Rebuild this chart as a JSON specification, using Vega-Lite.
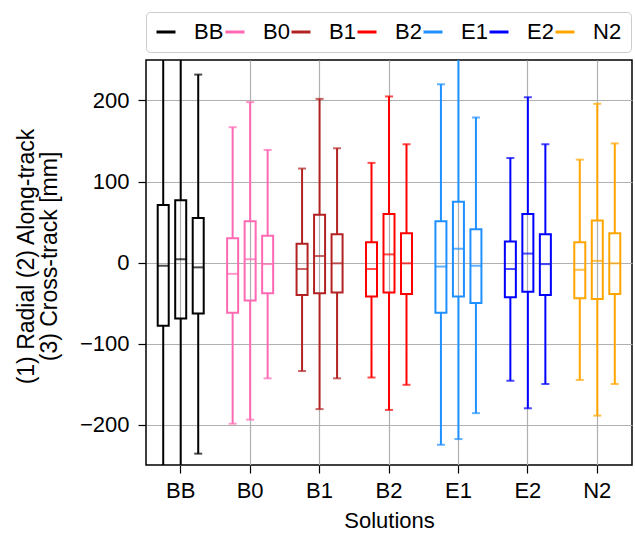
{
  "$schema": "https://vega.github.io/schema/vega-lite/v6.json",
  "width": 486,
  "height": 405,
  "autosize": {"type": "none"},
  "padding": {"left": 146, "top": 60, "right": 3, "bottom": 70},
  "config": {
    "font": "Liberation Sans",
    "view": {"stroke": "black", "strokeWidth": 1.5},
    "axis": {"labelColor": "black", "titleColor": "black", "tickColor": "black", "titleFontWeight": "normal", "gridColor": "#b0b0b0", "gridWidth": 1.2, "gridOpacity": 1}
  },
  "data": {
    "values": [
      {"sol": "BB", "comp": "Radial", "lo": -300, "q1": -78, "med": -4, "q3": 71, "hi": 300},
      {"sol": "BB", "comp": "Along-track", "lo": -300, "q1": -69, "med": 4, "q3": 77, "hi": 300},
      {"sol": "BB", "comp": "Cross-track", "lo": -236, "q1": -63, "med": -6, "q3": 55, "hi": 232},
      {"sol": "B0", "comp": "Radial", "lo": -199, "q1": -62, "med": -14, "q3": 30, "hi": 167},
      {"sol": "B0", "comp": "Along-track", "lo": -194, "q1": -47, "med": 4, "q3": 51, "hi": 198},
      {"sol": "B0", "comp": "Cross-track", "lo": -143, "q1": -38, "med": -2, "q3": 33, "hi": 139},
      {"sol": "B1", "comp": "Radial", "lo": -134, "q1": -40, "med": -8, "q3": 23, "hi": 116},
      {"sol": "B1", "comp": "Along-track", "lo": -181, "q1": -38, "med": 8, "q3": 59, "hi": 202},
      {"sol": "B1", "comp": "Cross-track", "lo": -143, "q1": -37, "med": -1, "q3": 35, "hi": 141},
      {"sol": "B2", "comp": "Radial", "lo": -142, "q1": -42, "med": -8, "q3": 25, "hi": 123},
      {"sol": "B2", "comp": "Along-track", "lo": -182, "q1": -37, "med": 10, "q3": 60, "hi": 205},
      {"sol": "B2", "comp": "Cross-track", "lo": -151, "q1": -39, "med": -1, "q3": 36, "hi": 146},
      {"sol": "E1", "comp": "Radial", "lo": -225, "q1": -62, "med": -5, "q3": 51, "hi": 220},
      {"sol": "E1", "comp": "Along-track", "lo": -218, "q1": -42, "med": 17, "q3": 75, "hi": 290},
      {"sol": "E1", "comp": "Cross-track", "lo": -186, "q1": -50, "med": -4, "q3": 41, "hi": 179},
      {"sol": "E2", "comp": "Radial", "lo": -146, "q1": -43, "med": -8, "q3": 26, "hi": 129},
      {"sol": "E2", "comp": "Along-track", "lo": -180, "q1": -36, "med": 11, "q3": 60, "hi": 204},
      {"sol": "E2", "comp": "Cross-track", "lo": -150, "q1": -40, "med": -2, "q3": 35, "hi": 146},
      {"sol": "N2", "comp": "Radial", "lo": -145, "q1": -44, "med": -9, "q3": 25, "hi": 127},
      {"sol": "N2", "comp": "Along-track", "lo": -189, "q1": -45, "med": 2, "q3": 52, "hi": 196},
      {"sol": "N2", "comp": "Cross-track", "lo": -150, "q1": -39, "med": -1, "q3": 36, "hi": 147}
    ]
  },
  "encoding": {
    "x": {
      "field": "sol", "type": "nominal",
      "sort": ["BB", "B0", "B1", "B2", "E1", "E2", "N2"],
      "scale": {"paddingInner": 0, "paddingOuter": 0},
      "axis": {
        "title": "Solutions", "labelAngle": 0, "labelFontSize": 22, "titleFontSize": 22,
        "tickSize": 8, "tickWidth": 1.2, "labelPadding": 7, "domain": false, "grid": true,
        "bandPosition": 0.5, "tickBand": "center",
        "titleX": 243, "titleY": 62, "titleBaseline": "alphabetic", "titleAlign": "center"
      }
    },
    "xOffset": {
      "field": "comp", "type": "nominal",
      "sort": ["Radial", "Along-track", "Cross-track"],
      "scale": {"paddingInner": 0.371, "paddingOuter": 0.669}
    },
    "color": {
      "field": "sol", "type": "nominal",
      "scale": {
        "domain": ["BB", "B0", "B1", "B2", "E1", "E2", "N2"],
        "range": ["#000000", "#ff69b4", "#b22222", "#ff0000", "#1e90ff", "#0000ff", "#ffa500"]
      },
      "legend": null
    }
  },
  "layer": [
    {
      "mark": {"type": "rule", "strokeWidth": 2, "clip": true},
      "encoding": {
        "y": {
          "field": "q3", "type": "quantitative",
          "scale": {"domain": [-250, 250], "nice": false, "zero": false},
          "axis": {
            "values": [-200, -100, 0, 100, 200],
            "title": ["(1) Radial (2) Along-track", "(3) Cross-track [mm]"],
            "labelFontSize": 22, "titleFontSize": 23, "tickSize": 8, "tickWidth": 1.2,
            "labelPadding": 9, "domain": false, "grid": true,
            "titleAngle": -90, "titleX": -113, "titleY": 196, "titleAlign": "center",
            "titleBaseline": "alphabetic", "titleLineHeight": 23
          }
        },
        "y2": {"field": "hi"},
        "color": {
          "field": "sol", "type": "nominal",
          "scale": {
            "domain": ["BB", "B0", "B1", "B2", "E1", "E2", "N2"],
            "range": ["#000000", "#ff69b4", "#b22222", "#ff0000", "#1e90ff", "#0000ff", "#ffa500"]
          },
          "legend": {
            "title": null, "orient": "none", "legendX": 0, "legendY": -48,
            "direction": "horizontal", "columns": 7,
            "symbolType": "stroke", "symbolSize": 361, "symbolStrokeWidth": 3,
            "labelFontSize": 22, "labelOffset": 17, "labelColor": "black",
            "columnPadding": -5, "padding": 9,
            "strokeColor": "#cccccc", "fillColor": "white", "cornerRadius": 4
          }
        }
      }
    },
    {
      "mark": {"type": "rule", "strokeWidth": 2, "clip": true},
      "encoding": {
        "y": {
          "field": "lo", "type": "quantitative",
          "axis": {
            "values": [-200, -100, 0, 100, 200],
            "title": ["(1) Radial (2) Along-track", "(3) Cross-track [mm]"],
            "labelFontSize": 22, "titleFontSize": 23, "tickSize": 8, "tickWidth": 1.2,
            "labelPadding": 9, "domain": false, "grid": true,
            "titleAngle": -90, "titleX": -113, "titleY": 196, "titleAlign": "center",
            "titleBaseline": "alphabetic", "titleLineHeight": 23
          }
        },
        "y2": {"field": "q1"}
      }
    },
    {
      "mark": {"type": "bar", "filled": false, "strokeWidth": 2, "clip": true},
      "encoding": {
        "y": {
          "field": "q1", "type": "quantitative",
          "axis": {
            "values": [-200, -100, 0, 100, 200],
            "title": ["(1) Radial (2) Along-track", "(3) Cross-track [mm]"],
            "labelFontSize": 22, "titleFontSize": 23, "tickSize": 8, "tickWidth": 1.2,
            "labelPadding": 9, "domain": false, "grid": true,
            "titleAngle": -90, "titleX": -113, "titleY": 196, "titleAlign": "center",
            "titleBaseline": "alphabetic", "titleLineHeight": 23
          }
        },
        "y2": {"field": "q3"}
      }
    },
    {
      "mark": {"type": "tick", "size": 11, "thickness": 2, "clip": true},
      "encoding": {
        "y": {
          "field": "med", "type": "quantitative",
          "axis": {
            "values": [-200, -100, 0, 100, 200],
            "title": ["(1) Radial (2) Along-track", "(3) Cross-track [mm]"],
            "labelFontSize": 22, "titleFontSize": 23, "tickSize": 8, "tickWidth": 1.2,
            "labelPadding": 9, "domain": false, "grid": true,
            "titleAngle": -90, "titleX": -113, "titleY": 196, "titleAlign": "center",
            "titleBaseline": "alphabetic", "titleLineHeight": 23
          }
        }
      }
    },
    {
      "mark": {"type": "tick", "size": 8, "thickness": 2, "clip": true},
      "encoding": {
        "y": {
          "field": "hi", "type": "quantitative",
          "axis": {
            "values": [-200, -100, 0, 100, 200],
            "title": ["(1) Radial (2) Along-track", "(3) Cross-track [mm]"],
            "labelFontSize": 22, "titleFontSize": 23, "tickSize": 8, "tickWidth": 1.2,
            "labelPadding": 9, "domain": false, "grid": true,
            "titleAngle": -90, "titleX": -113, "titleY": 196, "titleAlign": "center",
            "titleBaseline": "alphabetic", "titleLineHeight": 23
          }
        }
      }
    },
    {
      "mark": {"type": "tick", "size": 8, "thickness": 2, "clip": true},
      "encoding": {
        "y": {
          "field": "lo", "type": "quantitative",
          "axis": {
            "values": [-200, -100, 0, 100, 200],
            "title": ["(1) Radial (2) Along-track", "(3) Cross-track [mm]"],
            "labelFontSize": 22, "titleFontSize": 23, "tickSize": 8, "tickWidth": 1.2,
            "labelPadding": 9, "domain": false, "grid": true,
            "titleAngle": -90, "titleX": -113, "titleY": 196, "titleAlign": "center",
            "titleBaseline": "alphabetic", "titleLineHeight": 23
          }
        }
      }
    }
  ]
}
